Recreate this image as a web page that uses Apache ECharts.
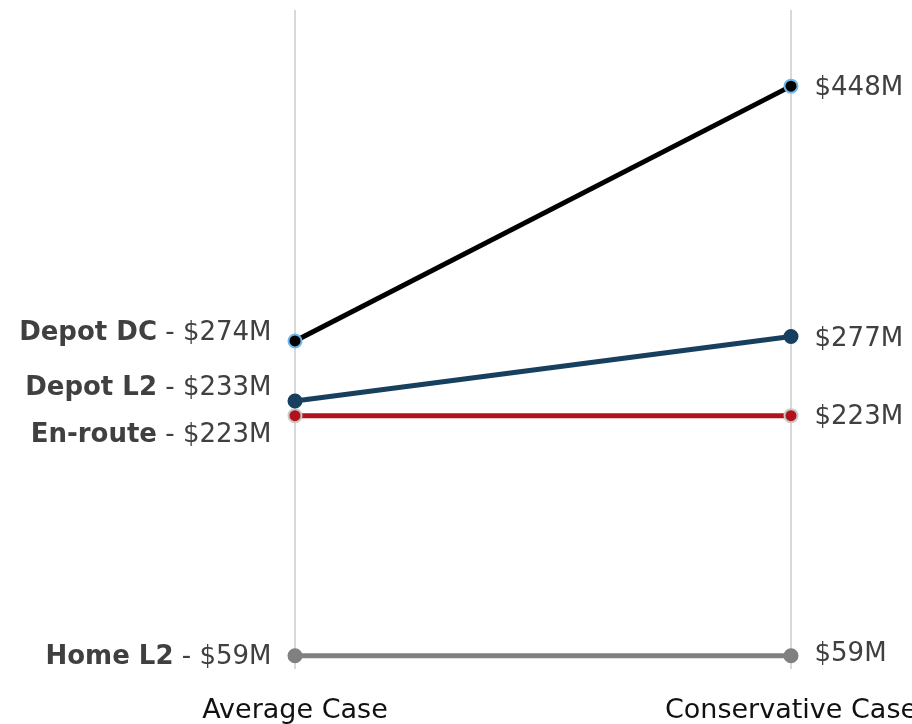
<!DOCTYPE html>
<html>
<head>
<meta charset="utf-8">
<script src="https://cdn.jsdelivr.net/npm/echarts@6/dist/echarts.min.js"></script>
<style>
  html, body { margin: 0; padding: 0; background: #fff; }
  #chart { width: 912px; height: 724px; }
</style>
</head>
<body>
<div id="chart"></div>
<script>
// Scenario columns
const scenarios = ['Average Case', 'Conservative Case'];

// Cost per charging type, $M, [average, conservative]
const seriesNames = ['Depot DC', 'Depot L2', 'En-route', 'Home L2'];
const depotDC = [274, 448];
const depotL2 = [233, 277];
const enRoute = [223, 223];
const homeL2 = [59, 59];

const lineColors = ['#000000', '#17405f', '#b2121c', '#808080'];
const markerBorders = ['#6fb7ea', '#17405f', '#c8c8c8', '#808080'];
// vertical nudge for the labels so they don't collide
const leftLabelShift = [-8, -13, 20, 1];
const rightLabelShift = [2, 3, 2, -2];

const FONT = '"DejaVu Sans", "Noto Sans", sans-serif';
const labelColor = '#404040';

function fmt(v) { return '$' + v + 'M'; }

function buildSeries(name, values, i) {
  return {
    name: name,
    type: 'line',
    data: values.map((v, j) => ({
      value: v,
      label: j === 0 ? {
        show: true,
        position: 'left',
        distance: 16,
        offset: [0, leftLabelShift[i]],
        formatter: () => '{b|' + name + '}{n| - ' + fmt(v) + '}',
        rich: {
          b: { fontFamily: FONT, fontSize: 26, fontWeight: 'bold', color: labelColor },
          n: { fontFamily: FONT, fontSize: 26, color: labelColor }
        }
      } : {
        show: true,
        position: 'right',
        distance: 16,
        offset: [0, rightLabelShift[i]],
        formatter: () => fmt(v),
        fontFamily: FONT,
        fontSize: 26,
        color: labelColor
      }
    })),
    symbol: 'circle',
    symbolSize: 13,
    lineStyle: { color: lineColors[i], width: 5 },
    itemStyle: { color: lineColors[i], borderColor: markerBorders[i], borderWidth: 2 },
    emphasis: { disabled: true },
    z: 10 - i
  };
}

const chart = echarts.init(document.getElementById('chart'), null, { renderer: 'canvas' });
chart.setOption({
  animation: false,
  backgroundColor: '#ffffff',
  grid: {
    left: 295, right: 121, top: 10, bottom: 55,
    containLabel: false,
    outerBoundsMode: 'none'
  },
  xAxis: {
    type: 'category',
    data: scenarios,
    boundaryGap: false,
    axisLine: { show: false },
    axisTick: { show: false },
    axisLabel: { fontFamily: FONT, fontSize: 27, color: '#111111', margin: 28, hideOverlap: false },
    splitLine: { show: true, lineStyle: { color: '#d9d9d9', width: 2 } }
  },
  yAxis: {
    type: 'value',
    min: 50,
    max: 500,
    show: false,
    splitLine: { show: false }
  },
  series: [
    buildSeries(seriesNames[0], depotDC, 0),
    buildSeries(seriesNames[1], depotL2, 1),
    buildSeries(seriesNames[2], enRoute, 2),
    buildSeries(seriesNames[3], homeL2, 3)
  ]
});
</script>
</body>
</html>
